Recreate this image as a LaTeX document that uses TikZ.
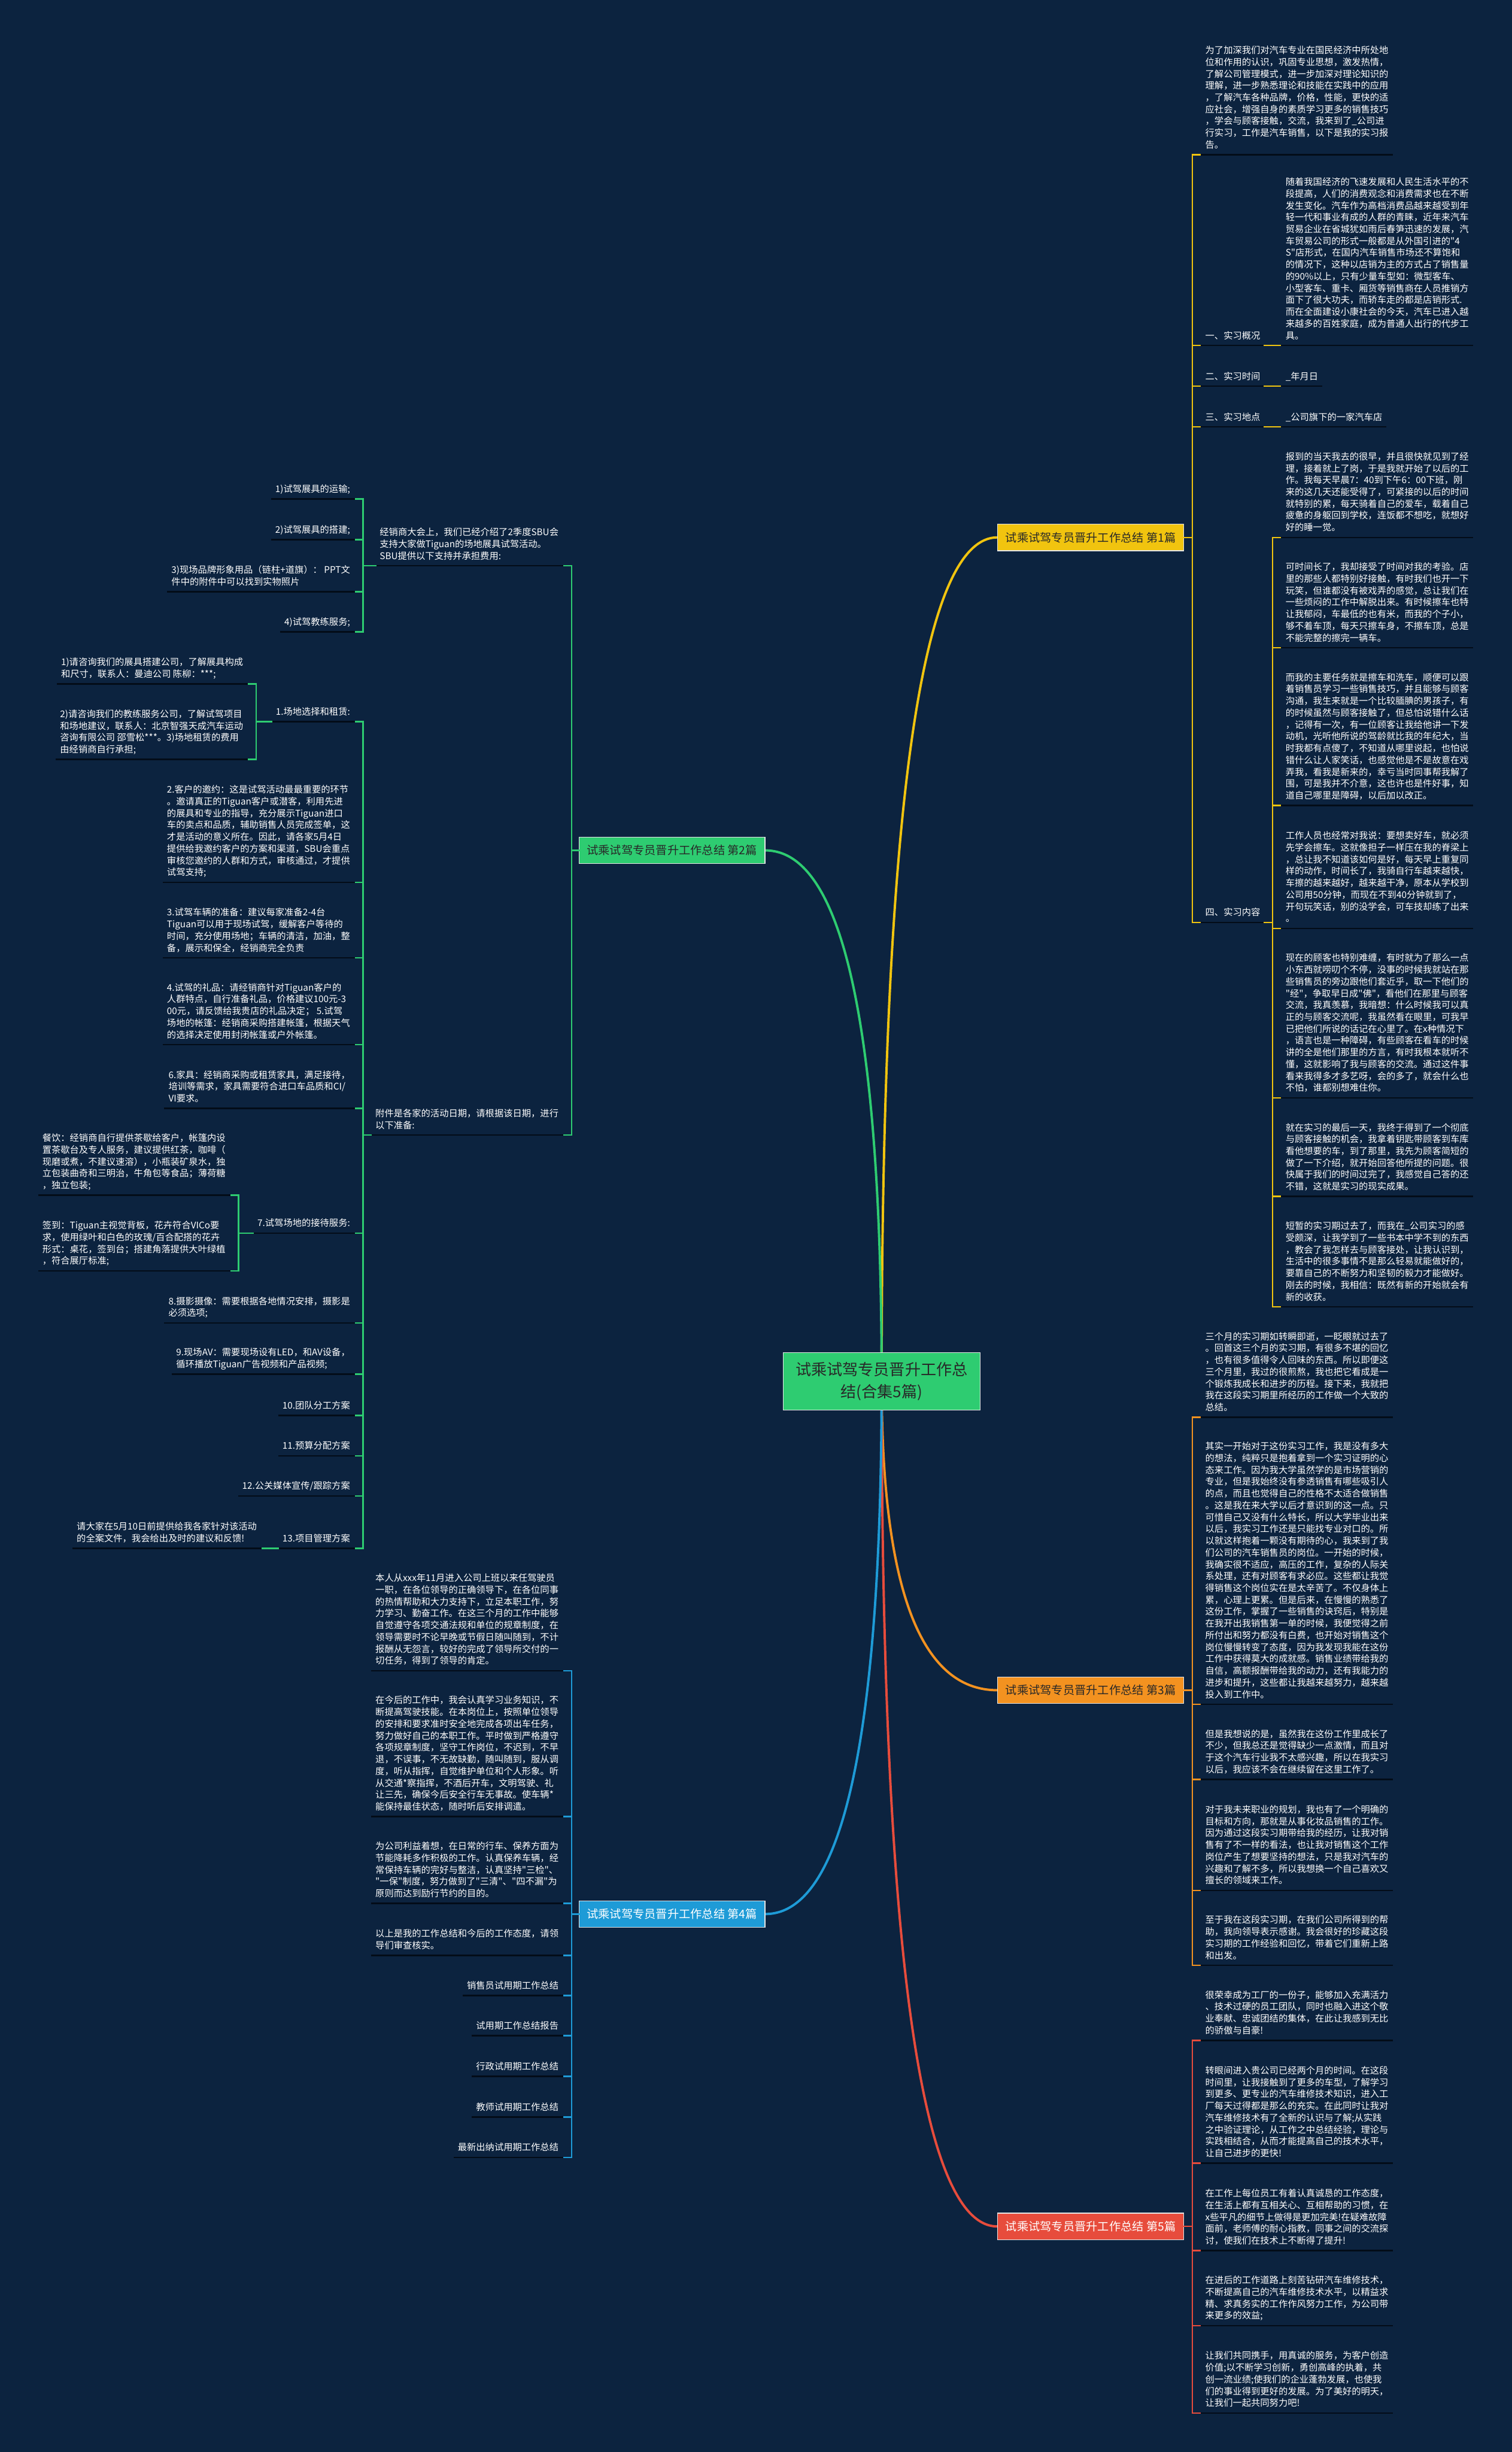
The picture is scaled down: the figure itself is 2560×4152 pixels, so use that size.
\documentclass[tikz,border=0pt]{standalone}
\usepackage{fontspec}
\setmainfont{Noto Sans CJK SC}
\newfontfamily\cjkf{Noto Sans CJK SC}
\usetikzlibrary{calc}
\definecolor{bgnavy}{RGB}{12,35,63}
\definecolor{ulblack}{RGB}{3,12,24}
\definecolor{myyellow}{RGB}{241,196,15}
\definecolor{mygreen}{RGB}{46,204,113}
\definecolor{myorange}{RGB}{243,146,32}
\definecolor{myblue}{RGB}{30,155,215}
\definecolor{myred}{RGB}{231,76,60}
\definecolor{boxtext}{RGB}{40,40,40}
\newcommand\ptext{\cjkf\fontsize{15.5pt}{20pt}\selectfont}
\newcommand\btext{\cjkf\fontsize{19.5pt}{24pt}\selectfont}
\newcommand\rtext{\cjkf\fontsize{26.5pt}{37pt}\selectfont}
\newcommand\ustrut{\rule[-11pt]{0pt}{11pt}}
\pgfdeclarelayer{back}
\pgfsetlayers{back,main}

\begin{document}
\begin{tikzpicture}[
  x=1pt, y=-1pt,
  txt/.style = {inner xsep=7pt, inner ysep=0pt, align=left, text=white,
                font=\ptext, execute at end node=\ustrut},
  rtx/.style = {txt, anchor=south west},
  ltx/.style = {txt, anchor=south east},
  mbox/.style = {draw=white!80!gray, line width=1.2pt, minimum width=315pt,
                 minimum height=45pt, inner sep=0pt, font=\btext},
  ul/.style = {draw=ulblack, line width=2.5pt},
  tk/.style = {draw=#1, line width=2.5pt},
  brk/.style = {draw=#1, line width=2.5pt, line cap=rect},
  lnk/.style = {draw=#1, line width=4pt},
]

\begin{pgfonlayer}{back}
\fill[bgnavy] (0,0) rectangle (2560,4152);
\end{pgfonlayer}
\useasboundingbox (0,0) rectangle (2560,4152);

% root and main branches
\node[fill=mygreen, draw=white!80!gray, line width=1.2pt, minimum width=334pt,
      minimum height=98pt, inner sep=0pt, align=center, font=\rtext, text=boxtext]
      (root) at (1493,2339) {试乘试驾专员晋升工作总\\结(合集5篇)};
\node[mbox, fill=myyellow, text=boxtext] (br1) at (1847,910) {试乘试驾专员晋升工作总结 第1篇};
\node[mbox, fill=mygreen, text=boxtext] (br2) at (1138,1440) {试乘试驾专员晋升工作总结 第2篇};
\node[mbox, fill=myorange, text=boxtext] (br3) at (1847,2862) {试乘试驾专员晋升工作总结 第3篇};
\node[mbox, fill=myblue, text=white] (br4) at (1138,3241) {试乘试驾专员晋升工作总结 第4篇};
\node[mbox, fill=myred, text=white] (br5) at (1847,3770) {试乘试驾专员晋升工作总结 第5篇};

\coordinate (b1) at (2019,910);
\coordinate (b2) at (968,1440);
\coordinate (b3) at (2019,2862);
\coordinate (b4) at (968,3241);
\coordinate (b5) at (2019,3770);
\coordinate (s4) at (2155,1562);
\coordinate (bA) at (615,958);
\coordinate (bB) at (615,1922);
\coordinate (bS) at (434,1222);
\coordinate (bR) at (404,2088);
\coordinate (bT) at (457,2622);

% branch 1
\node[rtx] (p1) at (2034,262) {为了加深我们对汽车专业在国民经济中所处地\\位和作用的认识，巩固专业思想，激发热情，\\了解公司管理模式，进一步加深对理论知识的\\理解，进一步熟悉理论和技能在实践中的应用\\，了解汽车各种品牌，价格，性能，更快的适\\应社会，增强自身的素质学习更多的销售技巧\\，学会与顾客接触，交流，我来到了\_公司进\\行实习，工作是汽车销售，以下是我的实习报\\告。};
\node[rtx] (l1) at (2034,585) {一、实习概况};
\node[rtx] (l2) at (2034,654) {二、实习时间};
\node[rtx] (l3) at (2034,723) {三、实习地点};
\node[rtx] (l4) at (2034,1562) {四、实习内容};
\node[rtx] (c1) at (2170,585) {随着我国经济的飞速发展和人民生活水平的不\\段提高，人们的消费观念和消费需求也在不断\\发生变化。汽车作为高档消费品越来越受到年\\轻一代和事业有成的人群的青睐，近年来汽车\\贸易企业在省城犹如雨后春笋迅速的发展，汽\\车贸易公司的形式一般都是从外国引进的"4\\S"店形式，在国内汽车销售市场还不算饱和\\的情况下，这种以店销为主的方式占了销售量\\的90\%以上，只有少量车型如：微型客车、\\小型客车、重卡、厢货等销售商在人员推销方\\面下了很大功夫，而轿车走的都是店销形式.\\而在全面建设小康社会的今天，汽车已进入越\\来越多的百姓家庭，成为普通人出行的代步工\\具。};
\node[rtx] (c2) at (2170,654) {\_年月日};
\node[rtx] (c3) at (2170,723) {\_公司旗下的一家汽车店};
\node[rtx] (q1) at (2170,910) {报到的当天我去的很早，并且很快就见到了经\\理，接着就上了岗，于是我就开始了以后的工\\作。我每天早晨7：40到下午6：00下班，刚\\来的这几天还能受得了，可紧接的以后的时间\\就特别的累，每天骑着自己的爱车，载着自己\\疲惫的身躯回到学校，连饭都不想吃，就想好\\好的睡一觉。};
\node[rtx] (q2) at (2170,1097) {可时间长了，我却接受了时间对我的考验。店\\里的那些人都特别好接触，有时我们也开一下\\玩笑，但谁都没有被戏弄的感觉，总让我们在\\一些烦闷的工作中解脱出来。有时候擦车也特\\让我郁闷，车最低的也有米，而我的个子小，\\够不着车顶，每天只擦车身，不擦车顶，总是\\不能完整的擦完一辆车。};
\node[rtx] (q3) at (2170,1364) {而我的主要任务就是擦车和洗车，顺便可以跟\\着销售员学习一些销售技巧，并且能够与顾客\\沟通，我生来就是一个比较腼腆的男孩子，有\\的时候虽然与顾客接触了，但总怕说错什么话\\，记得有一次，有一位顾客让我给他讲一下发\\动机，光听他所说的驾龄就比我的年纪大，当\\时我都有点傻了，不知道从哪里说起，也怕说\\错什么让人家笑话，也感觉他是不是故意在戏\\弄我，看我是新来的，幸亏当时同事帮我解了\\围，可是我并不介意，这也许也是件好事，知\\道自己哪里是障碍，以后加以改正。};
\node[rtx] (q4) at (2170,1572) {工作人员也经常对我说：要想卖好车，就必须\\先学会擦车。这就像担子一样压在我的脊梁上\\，总让我不知道该如何是好，每天早上重复同\\样的动作，时间长了，我骑自行车越来越快，\\车擦的越来越好，越来越干净，原本从学校到\\公司用50分钟，而现在不到40分钟就到了，\\开句玩笑话，别的没学会，可车技却练了出来\\。};
\node[rtx] (q5) at (2170,1859) {现在的顾客也特别难缠，有时就为了那么一点\\小东西就唠叨个不停，没事的时候我就站在那\\些销售员的旁边跟他们套近乎，取一下他们的\\"经"，争取早日成"佛"，看他们在那里与顾客\\交流，我真羡慕，我暗想：什么时候我可以真\\正的与顾客交流呢，我虽然看在眼里，可我早\\已把他们所说的话记在心里了。在x种情况下\\，语言也是一种障碍，有些顾客在看车的时候\\讲的全是他们那里的方言，有时我根本就听不\\懂，这就影响了我与顾客的交流。通过这件事\\看来我得多才多艺呀，会的多了，就会什么也\\不怕，谁都别想难住你。};
\node[rtx] (q6) at (2170,2026) {就在实习的最后一天，我终于得到了一个彻底\\与顾客接触的机会，我拿着钥匙带顾客到车库\\看他想要的车，到了那里，我先为顾客简短的\\做了一下介绍，就开始回答他所提的问题。很\\快属于我们的时间过完了，我感觉自己答的还\\不错，这就是实习的现实成果。};
\node[rtx] (q7) at (2170,2213) {短暂的实习期过去了，而我在\_公司实习的感\\受颇深，让我学到了一些书本中学不到的东西\\，教会了我怎样去与顾客接处，让我认识到，\\生活中的很多事情不是那么轻易就能做好的，\\要靠自己的不断努力和坚韧的毅力才能做好。\\刚去的时候，我相信：既然有新的开始就会有\\新的收获。};

% branch 2
\node[ltx] (n2a) at (953,958) {经销商大会上，我们已经介绍了2季度SBU会\\支持大家做Tiguan的场地展具试驾活动。\\SBU提供以下支持并承担费用:};
\node[ltx] (n2b) at (953,1922) {附件是各家的活动日期，请根据该日期，进行\\以下准备:};
\node[ltx] (a1) at (600,845) {1)试驾展具的运输;};
\node[ltx] (a2) at (600,914) {2)试驾展具的搭建;};
\node[ltx] (a3) at (600,1002) {3)现场品牌形象用品（链柱+道旗）： PPT文\\件中的附件中可以找到实物照片};
\node[ltx] (a4) at (600,1070) {4)试驾教练服务;};
\node[ltx] (m1) at (600,1222) {1.场地选择和租赁:};
\node[ltx] (m1a) at (419,1158) {1)请咨询我们的展具搭建公司，了解展具构成\\和尺寸，联系人：曼迪公司 陈柳：***;};
\node[ltx] (m1b) at (419,1286) {2)请咨询我们的教练服务公司，了解试驾项目\\和场地建议，联系人：北京智强天成汽车运动\\咨询有限公司 邵雪松***。3)场地租赁的费用\\由经销商自行承担;};
\node[ltx] (m2) at (600,1494) {2.客户的邀约：这是试驾活动最最重要的环节\\。邀请真正的Tiguan客户或潜客，利用先进\\的展具和专业的指导，充分展示Tiguan进口\\车的卖点和品质，辅助销售人员完成签单，这\\才是活动的意义所在。因此，请各家5月4日\\提供给我邀约客户的方案和渠道，SBU会重点\\审核您邀约的人群和方式，审核通过，才提供\\试驾支持;};
\node[ltx] (m3) at (600,1622) {3.试驾车辆的准备：建议每家准备2-4台\\Tiguan可以用于现场试驾，缓解客户等待的\\时间，充分使用场地；车辆的清洁，加油，整\\备，展示和保全，经销商完全负责};
\node[ltx] (m4) at (600,1769) {4.试驾的礼品：请经销商针对Tiguan客户的\\人群特点，自行准备礼品，价格建议100元-3\\00元，请反馈给我贵店的礼品决定； 5.试驾\\场地的帐篷：经销商采购搭建帐篷，根据天气\\的选择决定使用封闭帐篷或户外帐篷。};
\node[ltx] (m6) at (600,1877) {6.家具：经销商采购或租赁家具，满足接待，\\培训等需求，家具需要符合进口车品质和CI/\\VI要求。};
\node[ltx] (m7) at (600,2088) {7.试驾场地的接待服务:};
\node[ltx] (m7a) at (389,2024) {餐饮：经销商自行提供茶歇给客户，帐篷内设\\置茶歇台及专人服务，建议提供红茶，咖啡（\\现磨或煮，不建议速溶），小瓶装矿泉水，独\\立包装曲奇和三明治，牛角包等食品；薄荷糖\\，独立包装;};
\node[ltx] (m7b) at (389,2152) {签到：Tiguan主视觉背板，花卉符合VICo要\\求，使用绿叶和白色的玫瑰/百合配搭的花卉\\形式：桌花，签到台；搭建角落提供大叶绿植\\，符合展厅标准;};
\node[ltx] (m8) at (600,2240) {8.摄影摄像：需要根据各地情况安排，摄影是\\必须选项;};
\node[ltx] (m9) at (600,2327) {9.现场AV：需要现场设有LED，和AV设备，\\循环播放Tiguan广告视频和产品视频;};
\node[ltx] (m10) at (600,2397) {10.团队分工方案};
\node[ltx] (m11) at (600,2465) {11.预算分配方案};
\node[ltx] (m12) at (600,2533) {12.公关媒体宣传/跟踪方案};
\node[ltx] (m13) at (600,2622) {13.项目管理方案};
\node[ltx] (m13a) at (442,2622) {请大家在5月10日前提供给我各家针对该活动\\的全案文件，我会给出及时的建议和反馈!};

% branch 3
\node[rtx] (e1) at (2034,2400) {三个月的实习期如转瞬即逝，一眨眼就过去了\\。回首这三个月的实习期，有很多不堪的回忆\\，也有很多值得令人回味的东西。所以即便这\\三个月里，我过的很煎熬，我也把它看成是一\\个锻炼我成长和进步的历程。接下来，我就把\\我在这段实习期里所经历的工作做一个大致的\\总结。};
\node[rtx] (e2) at (2034,2886) {其实一开始对于这份实习工作，我是没有多大\\的想法，纯粹只是抱着拿到一个实习证明的心\\态来工作。因为我大学虽然学的是市场营销的\\专业，但是我始终没有参透销售有哪些吸引人\\的点，而且也觉得自己的性格不太适合做销售\\。这是我在来大学以后才意识到的这一点。只\\可惜自己又没有什么特长，所以大学毕业出来\\以后，我实习工作还是只能找专业对口的。所\\以就这样抱着一颗没有期待的心，我来到了我\\们公司的汽车销售员的岗位。一开始的时候，\\我确实很不适应，高压的工作，复杂的人际关\\系处理，还有对顾客有求必应。这些都让我觉\\得销售这个岗位实在是太辛苦了。不仅身体上\\累，心理上更累。但是后来，在慢慢的熟悉了\\这份工作，掌握了一些销售的诀窍后，特别是\\在我开出我销售第一单的时候，我便觉得之前\\所付出和努力都没有白费，也开始对销售这个\\岗位慢慢转变了态度，因为我发现我能在这份\\工作中获得莫大的成就感。销售业绩带给我的\\自信，高额报酬带给我的动力，还有我能力的\\进步和提升，这些都让我越来越努力，越来越\\投入到工作中。};
\node[rtx] (e3) at (2034,3013) {但是我想说的是，虽然我在这份工作里成长了\\不少，但我总还是觉得缺少一点激情，而且对\\于这个汽车行业我不太感兴趣，所以在我实习\\以后，我应该不会在继续留在这里工作了。};
\node[rtx] (e4) at (2034,3201) {对于我未来职业的规划，我也有了一个明确的\\目标和方向，那就是从事化妆品销售的工作。\\因为通过这段实习期带给我的经历，让我对销\\售有了不一样的看法，也让我对销售这个工作\\岗位产生了想要坚持的想法，只是我对汽车的\\兴趣和了解不多，所以我想换一个自己喜欢又\\擅长的领域来工作。};
\node[rtx] (e5) at (2034,3328) {至于我在这段实习期，在我们公司所得到的帮\\助，我向领导表示感谢。我会很好的珍藏这段\\实习期的工作经验和回忆，带着它们重新上路\\和出发。};

% branch 4
\node[ltx] (d1) at (953,2829) {本人从xxx年11月进入公司上班以来任驾驶员\\一职，在各位领导的正确领导下，在各位同事\\的热情帮助和大力支持下，立足本职工作，努\\力学习、勤奋工作。在这三个月的工作中能够\\自觉遵守各项交通法规和单位的规章制度，在\\领导需要时不论早晚或节假日随叫随到，不计\\报酬从无怨言，较好的完成了领导所交付的一\\切任务，得到了领导的肯定。};
\node[ltx] (d2) at (953,3076) {在今后的工作中，我会认真学习业务知识，不\\断提高驾驶技能。在本岗位上，按照单位领导\\的安排和要求准时安全地完成各项出车任务，\\努力做好自己的本职工作。平时做到严格遵守\\各项规章制度，坚守工作岗位，不迟到，不早\\退，不误事，不无故缺勤，随叫随到，服从调\\度，听从指挥，自觉维护单位和个人形象。听\\从交通*察指挥，不酒后开车，文明驾驶、礼\\让三先，确保今后安全行车无事故。使车辆*\\能保持最佳状态，随时听后安排调遣。};
\node[ltx] (d3) at (953,3223) {为公司利益着想，在日常的行车、保养方面为\\节能降耗多作积极的工作。认真保养车辆，经\\常保持车辆的完好与整洁，认真坚持"三检"、\\"一保"制度，努力做到了"三清"、"四不漏"为\\原则而达到励行节约的目的。};
\node[ltx] (d4) at (953,3311) {以上是我的工作总结和今后的工作态度，请领\\导们审查核实。};
\node[ltx] (d5) at (953,3379) {销售员试用期工作总结};
\node[ltx] (d6) at (953,3447) {试用期工作总结报告};
\node[ltx] (d7) at (953,3516) {行政试用期工作总结};
\node[ltx] (d8) at (953,3585) {教师试用期工作总结};
\node[ltx] (d9) at (953,3653) {最新出纳试用期工作总结};

% branch 5
\node[rtx] (f1) at (2034,3455) {很荣幸成为工厂的一份子，能够加入充满活力\\、技术过硬的员工团队，同时也融入进这个敬\\业奉献、忠诚团结的集体，在此让我感到无比\\的骄傲与自豪!};
\node[rtx] (f2) at (2034,3663) {转眼间进入贵公司已经两个月的时间。在这段\\时间里，让我接触到了更多的车型，了解学习\\到更多、更专业的汽车维修技术知识，进入工\\厂每天过得都是那么的充实。在此同时让我对\\汽车维修技术有了全新的认识与了解;从实践\\之中验证理论，从工作之中总结经验，理论与\\实践相结合，从而才能提高自己的技术水平，\\让自己进步的更快!};
\node[rtx] (f3) at (2034,3811) {在工作上每位员工有着认真诚恳的工作态度，\\在生活上都有互相关心、互相帮助的习惯，在\\x些平凡的细节上做得是更加完美!在疑难故障\\面前，老师傅的耐心指教，同事之间的交流探\\讨，使我们在技术上不断得了提升!};
\node[rtx] (f4) at (2034,3938) {在进后的工作道路上刻苦钻研汽车维修技术，\\不断提高自己的汽车维修技术水平，以精益求\\精、求真务实的工作作风努力工作，为公司带\\来更多的效益;};
\node[rtx] (f5) at (2034,4086) {让我们共同携手，用真诚的服务，为客户创造\\价值;以不断学习创新，勇创高峰的执着，共\\创一流业绩;使我们的企业蓬勃发展，也使我\\们的事业得到更好的发展。为了美好的明天，\\让我们一起共同努力吧!};

% right side underlines and brackets
\foreach \bb/\col/\list in {b1/myyellow/{p1,l1,l2,l3,l4}, s4/myyellow/{c1,c2,c3,q1,q2,q3,q4,q5,q6,q7},
    b3/myorange/{e1,e2,e3,e4,e5}, b5/myred/{f1,f2,f3,f4,f5}} {
  \foreach \nn in \list {
    \draw[ul] (\bb |- \nn.south) -- (\nn.south east);
    \draw[tk=\col] (\bb |- \nn.south) -- ++(14,0);
  }
}
\draw[brk=myyellow] (b1 |- p1.south) -- (b1 |- l4.south);
\draw[brk=myyellow] (s4 |- q1.south) -- (s4 |- q7.south);
\draw[brk=myorange] (b3 |- e1.south) -- (b3 |- e5.south);
\draw[brk=myred] (b5 |- f1.south) -- (b5 |- f5.south);
\draw[brk=myyellow] (br1.east) -- (b1);
\draw[brk=myorange] (br3.east) -- (b3);
\draw[brk=myred] (br5.east) -- (b5);
\foreach \nn in {l1,l2,l3,l4}
  \draw[brk=myyellow] (\nn.south east) -- (s4 |- \nn.south);

% left side underlines and brackets
\foreach \bb/\col/\list in {b2/mygreen/{n2a,n2b}, bA/mygreen/{a1,a2,a3,a4},
    bB/mygreen/{m1,m2,m3,m4,m6,m7,m8,m9,m10,m11,m12,m13}, bS/mygreen/{m1a,m1b},
    bR/mygreen/{m7a,m7b}, bT/mygreen/{m13a}, b4/myblue/{d1,d2,d3,d4,d5,d6,d7,d8,d9}} {
  \foreach \nn in \list {
    \draw[ul] (\bb |- \nn.south) -- (\nn.south west);
    \draw[tk=\col] (\bb |- \nn.south) -- ++(-14,0);
  }
}
\draw[brk=mygreen] (b2 |- n2a.south) -- (b2 |- n2b.south);
\draw[brk=mygreen] (bA |- a1.south) -- (bA |- a4.south);
\draw[brk=mygreen] (bB |- m1.south) -- (bB |- m13.south);
\draw[brk=mygreen] (bS |- m1a.south) -- (bS |- m1b.south);
\draw[brk=mygreen] (bR |- m7a.south) -- (bR |- m7b.south);
\draw[brk=myblue] (b4 |- d1.south) -- (b4 |- d9.south);
\draw[brk=mygreen] (br2.west) -- (b2);
\draw[brk=myblue] (br4.west) -- (b4);
\draw[brk=mygreen] (n2a.south west) -- (bA |- n2a.south);
\draw[brk=mygreen] (n2b.south west) -- (bB |- n2b.south);
\draw[brk=mygreen] (m1.south west) -- (bS |- m1.south);
\draw[brk=mygreen] (m7.south west) -- (bR |- m7.south);
\draw[brk=mygreen] (m13.south west) -- (bT |- m13.south);

% curves from the root
\begin{pgfonlayer}{back}
\foreach \bb/\col/\side in {br1/myyellow/west, br3/myorange/west, br5/myred/west,
    br2/mygreen/east, br4/myblue/east}
  \draw[lnk=\col] (root.center)
    .. controls ($(root.center)!0.667!(root.center |- \bb.\side)$)
            and ($(\bb.\side)!0.667!(root.center |- \bb.\side)$) .. (\bb.\side);
\end{pgfonlayer}
\end{tikzpicture}
\end{document}
